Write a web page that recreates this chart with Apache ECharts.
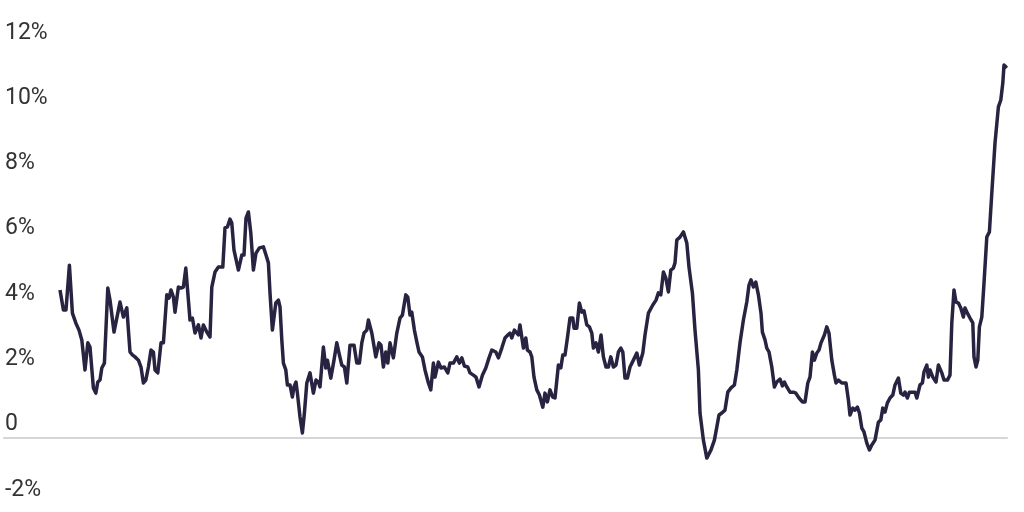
<!DOCTYPE html>
<html>
<head>
<meta charset="utf-8">
<script src="https://cdn.jsdelivr.net/npm/echarts@6/dist/echarts.min.js"></script>
<style>
html,body{margin:0;padding:0;background:#fff;}
#chart{width:1024px;height:512px;}
</style>
</head>
<body>
<div id="chart"></div>
<script>
// Month index and year-over-year change, %
const months = [
0,0.9,1.7,3,4.7,6.2,7.9,9.5,10.9,12.5,13.9,15,16.7,17.9,18.9,20,20.9,22.2,23.9,25,
27,28.4,30,31.7,33.4,34.2,35,36.2,37.5,39.2,40.5,41.7,42.9,44.2,45.5,46.7,47.5,48.9,50.5,51.7,
53.4,54.5,55.5,56.7,57.5,59.2,60.5,61.7,62.9,64.2,65,66.2,67.5,69.2,70.5,71.7,73.4,75,75.9,77.5,
79.2,81.4,82.5,83.7,85,85.9,87,89.2,90.9,92,93,94.2,95.4,96.7,98,99.7,101.7,103,104.2,105,
106.2,107,107.9,109.2,110,110.9,111.7,112.9,113.7,115,116.2,117,118,118.7,120,121.2,122.2,123.4,125,126.7,
128,129.2,130,131.7,132.9,133.7,135.4,137,138.4,139.7,140.9,142.2,143.4,145,147,148.4,149.7,150.9,152,153.4,
154.2,155.9,157.9,159.5,160.5,161.7,162.9,163.9,165,166.7,168.4,170,171.2,172.9,173.9,175,175.9,177.2,178.4,179.5,
181.2,182.5,184.2,185.4,186.7,187.5,189.2,190.5,192.2,193.9,195,196.7,198.4,199.7,200.9,202.2,203.9,205,206.7,208,
209.5,211.2,212.9,214.5,215.9,217.9,219.2,220.9,222.5,223.9,225,225.9,227.2,229.2,230,230.9,231.7,232.9,233.7,235,
235.9,237,238.4,239.7,241.4,242.5,243.7,245,246.4,247.5,249.2,250.4,251.4,252.5,253.7,255,256.4,257,258.4,259.7,
260.9,262,263.4,264.7,265.9,266.7,268,269.2,270.5,271.7,273,274.2,275.4,276.7,278,279.2,280.4,281.4,282.5,283.7,
285,286.7,288.4,289.7,291.4,292.5,294.2,296.4,298,299.2,300.4,301.7,302.9,304.2,305.4,306.7,307.5,308.4,310,311.7,
313.4,314.5,316.2,317.5,319.2,320,321.7,323.4,324.2,325.5,327.2,328.4,329.5,330.9,332.5,333.9,335.5,337.2,338.4,340,
341.7,343.4,344.5,345.5,346.7,347.9,349.2,350.5,351.2,352.5,353.4,354.5,355.9,357.2,358.4,360,361.2,362.2,363.4,365,
366.7,367.9,369.5,371.2,372.5,373.9,375,376.2,377.2,378.4,379.5,380.5,382.2,383.4,384.5,385.9,387.2,388,389.2,390.9,
393,394.2,395,396.4,397.5,398.7,399.7,400.9,402,403.4,404.7,405.9,407.5,409.2,410.4,411.4,412.5,413.7,415,416.4,
417.5,419.2,420.4,421.7,422.5,423.7,424.7,426.4,427.5,428.4,430,431.2,432,433.4,434.2,435,436.4,438,439.2,440.9,
442,443.7,445,445.9,447,448,449.2,450.4,451.7,452.5,453.7,455,456.4,457,458,458.9,459.7,460.9,462,463.4,
464.7,465.9,467.5,469.2,470.4,471.4,472,473.4
];
const values = [
4.52,4.58,3.91,3.91,5.28,3.81,3.51,3.29,2.99,2.07,2.90,2.77,1.52,1.36,1.70,1.76,2.13,2.28,4.58,4.21,
3.23,3.66,4.15,3.69,3.97,3.91,2.62,2.53,2.47,2.37,2.16,1.67,1.76,2.16,2.68,2.62,2.07,1.98,2.90,2.90,
4.37,4.27,4.52,4.30,3.84,4.61,4.58,4.61,5.19,4.21,3.60,3.66,3.20,3.45,3.05,3.45,3.23,3.08,4.61,5.07,
5.22,5.22,6.42,6.45,6.69,6.57,5.74,5.13,5.59,5.59,6.72,6.91,6.27,5.13,5.65,5.81,5.84,5.59,5.35,4.43,
3.29,3.29,4.12,4.21,4.00,2.99,2.28,2.07,1.61,1.61,1.24,1.55,1.70,1.36,0.63,0.14,0.75,1.67,1.98,1.36,
1.76,1.70,1.55,2.77,2.13,2.37,1.82,2.37,2.90,2.53,2.22,2.16,1.67,2.83,2.83,2.28,2.28,2.90,3.20,3.29,
3.60,3.20,2.47,2.90,2.83,2.16,2.62,2.28,2.90,2.44,3.20,3.66,3.75,4.37,4.30,3.75,3.84,3.29,2.93,2.62,
2.47,2.07,1.67,1.46,2.28,1.85,2.31,2.13,2.16,1.98,2.28,2.28,2.47,2.28,2.44,2.19,2.16,1.98,1.91,1.85,
1.55,1.91,2.13,2.44,2.68,2.62,2.44,2.74,3.05,3.14,3.20,3.05,3.29,3.14,3.45,3.45,2.74,3.05,2.68,2.62,
2.47,1.85,1.46,1.30,0.93,1.36,1.09,1.46,1.24,1.21,2.22,2.13,2.53,2.53,3.05,3.66,3.66,3.35,3.35,4.12,
3.84,3.88,3.45,3.39,3.20,2.74,2.90,2.62,3.14,2.47,2.16,2.16,2.47,2.16,2.22,2.62,2.74,2.62,1.82,1.82,
2.16,2.37,2.59,2.22,2.59,3.14,3.81,4.06,4.21,4.43,4.37,5.07,4.89,4.46,5.13,5.19,5.35,6.05,6.14,6.30,
5.96,5.22,4.43,3.29,2.07,0.75,-0.08,-0.63,-0.63,-0.38,-0.08,0.32,0.69,0.75,0.84,1.39,1.52,1.61,2.07,2.90,
3.60,4.15,4.67,4.83,4.61,4.76,4.37,3.81,3.23,2.99,2.74,2.62,2.16,1.55,1.70,1.79,1.58,1.70,1.55,1.39,
1.39,1.36,1.21,1.09,1.09,1.67,1.85,2.62,2.37,2.59,2.68,2.90,3.14,3.39,3.20,2.37,1.91,1.67,1.76,1.67,
1.67,1.15,0.69,0.90,0.84,0.93,0.75,0.29,0.17,-0.17,-0.38,-0.23,-0.08,0.47,0.54,0.90,0.78,1.06,1.21,1.30,
1.61,1.82,1.36,1.30,1.39,1.21,1.39,1.39,1.39,1.21,1.61,1.67,2.01,2.22,1.85,2.07,1.85,1.70,2.22,1.98,
1.76,1.76,1.91,3.51,4.52,4.15,4.12,3.97,3.69,3.97,3.81,3.66,3.51,2.47,2.16,2.37,3.39,3.69,4.73,6.14,
6.30,7.49,9.02,10.13,10.34,10.86,11.41,11.32
];
const yTicks = [-2, 0, 2, 4, 6, 8, 10, 12];

const seriesData = months.map((m, i) => [m, values[i]]);

const chart = echarts.init(document.getElementById('chart'), null, {renderer: 'canvas'});
chart.setOption({
  animation: false,
  backgroundColor: '#ffffff',
  grid: {left: 4, right: 17, top: 45.8, bottom: 9.2, containLabel: false},
  xAxis: {
    type: 'value',
    min: -28,
    max: 473.5,
    axisLine: {show: true, onZero: true, lineStyle: {color: '#d6d6d6', width: 2}},
    axisTick: {show: false},
    axisLabel: {show: false},
    splitLine: {show: false}
  },
  yAxis: {
    type: 'value',
    min: yTicks[0],
    max: yTicks[yTicks.length - 1],
    interval: 2,
    axisLine: {show: false},
    axisTick: {show: false},
    splitLine: {show: false},
    axisLabel: {
      inside: true,
      margin: 1,
      align: 'left',
      verticalAlign: 'bottom',
      lineHeight: 26,
      showMinLabel: true,
      showMaxLabel: true,
      color: '#333333',
      fontSize: 23,
      fontFamily: 'Roboto, "Noto Sans", sans-serif',
      formatter: v => (v === 0 ? '0' : v + '%')
    }
  },
  series: [{
    type: 'line',
    data: seriesData,
    showSymbol: false,
    symbol: 'none',
    lineStyle: {color: '#272340', width: 3.5, join: 'round'},
    z: 3
  }]
});
</script>
</body>
</html>
